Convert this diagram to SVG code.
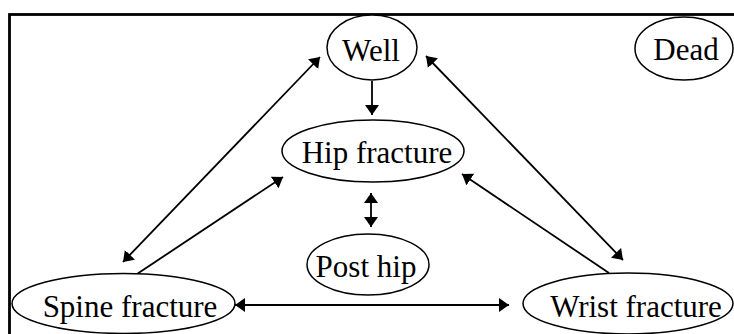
<svg xmlns="http://www.w3.org/2000/svg" width="734" height="334" viewBox="0 0 734 334">
<style>
.n ellipse{fill:#fff;stroke:#000;stroke-width:1.5}
.n text{font-family:"Liberation Serif","Times New Roman",serif;font-size:31px;fill:#000;text-anchor:middle}
.c line{stroke:#000;stroke-width:1.8}
</style>
<defs>
<marker id="ah" viewBox="0 0 10 14" refX="10" refY="7" markerWidth="10" markerHeight="14" markerUnits="userSpaceOnUse" orient="auto-start-reverse">
<path d="M0,0 L10,7 L0,14 Z" fill="#000"/>
</marker>
</defs>
<rect x="9.5" y="14.5" width="740" height="340" fill="#fff" stroke="#000" stroke-width="2.8"/>
<g class="c" id="connectors">
<line x1="372" y1="81" x2="372" y2="115" marker-end="url(#ah)"/>
<line x1="371" y1="193" x2="371" y2="227" marker-start="url(#ah)" marker-end="url(#ah)"/>
<line x1="235" y1="305" x2="509" y2="305" marker-start="url(#ah)" marker-end="url(#ah)"/>
<line x1="320" y1="57" x2="123" y2="262" marker-start="url(#ah)" marker-end="url(#ah)"/>
<line x1="137" y1="274" x2="283" y2="177" marker-end="url(#ah)"/>
<line x1="426" y1="56" x2="623" y2="260" marker-start="url(#ah)" marker-end="url(#ah)"/>
<line x1="609" y1="273" x2="462" y2="174" marker-end="url(#ah)"/>
</g>
<g class="n" id="well"><ellipse cx="372" cy="47.5" rx="45" ry="32.5"/><text x="371" y="61">Well</text></g>
<g class="n" id="dead"><ellipse cx="684" cy="48.5" rx="49" ry="31.5"/><text x="686" y="60">Dead</text></g>
<g class="n" id="hip"><ellipse cx="373" cy="151" rx="91" ry="31"/><text x="377" y="163">Hip fracture</text></g>
<g class="n" id="posthip"><ellipse cx="368" cy="264.5" rx="61" ry="30.5"/><text x="366" y="277">Post hip</text></g>
<g class="n" id="spine"><ellipse cx="123.5" cy="303.5" rx="111.5" ry="30"/><text x="130" y="317">Spine fracture</text></g>
<g class="n" id="wrist"><ellipse cx="628" cy="303.5" rx="105" ry="30.5"/><text x="636" y="317">Wrist fracture</text></g>
</svg>
